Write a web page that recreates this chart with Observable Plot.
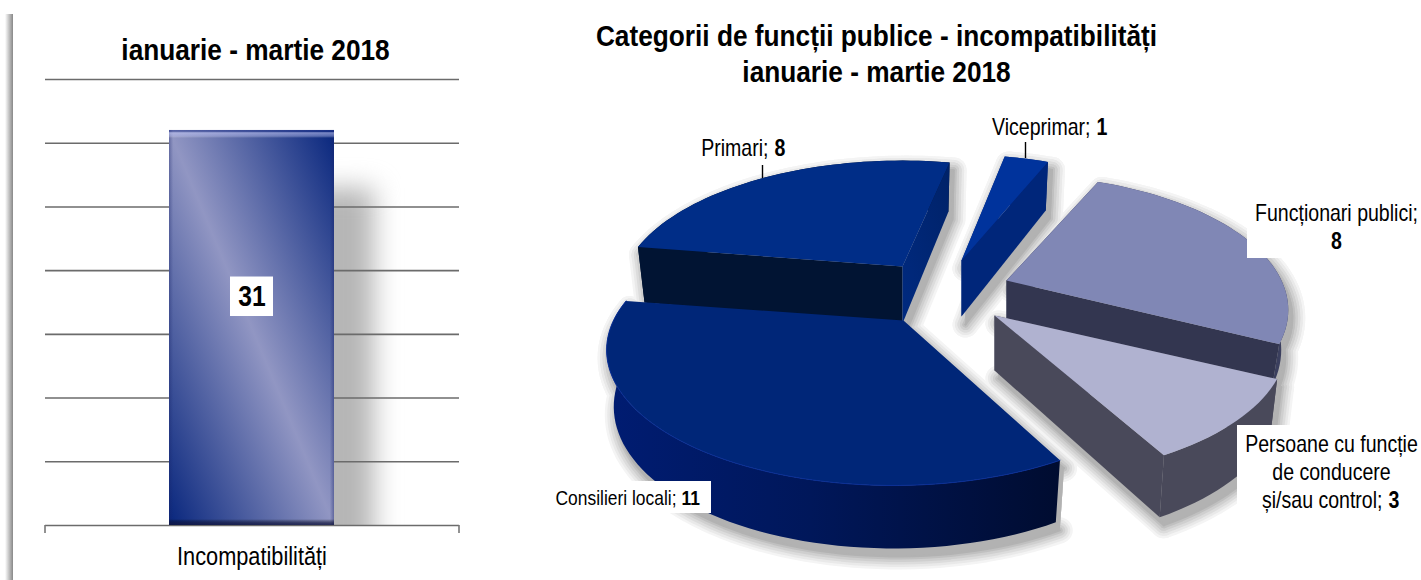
<!DOCTYPE html>
<html><head><meta charset="utf-8">
<script src="https://cdn.jsdelivr.net/npm/d3@7"></script>
<script src="https://cdn.jsdelivr.net/npm/@observablehq/plot@0.6"></script>
<style>
html,body{margin:0;padding:0;background:#fff;overflow:hidden}
#page{position:relative;width:1421px;height:580px}
#page svg{position:absolute;top:0;background:transparent;overflow:visible}
#edge{position:absolute;left:5px;top:14px;width:8px;bottom:0;background:linear-gradient(to right,rgba(130,130,130,0),#888)}
</style></head><body>
<div id="page"><div id="edge"></div></div>
<script>
// ---- data ----
const barCategories = ["Incompatibilități"];
const barValues = [31];
const barTicks = [0, 5, 10, 15, 20, 25, 30, 35];
const barTitle = "ianuarie - martie 2018";
const pieTitleLines = ["Categorii de funcții publice - incompatibilități", "ianuarie - martie 2018"];
const pieNames = ["Primari", "Viceprimar", "Funcționari publici", "Persoane cu funcție de conducere și/sau control", "Consilieri locali"];
const pieValues = [8, 1, 8, 3, 11];

// ---- drawing settings (not data) ----
const FONT = "Liberation Sans";
const firstAngle = 279;            // rotation of the first slice, degrees
const persp = 0.218, tilt = 129, depthGrow = 8, taper = 0.975;
const sliceStyle = [
  {ax:902, ay:266, cx:0,   R:277, d:57, top:"#002d87", a:"#011433", b:"url(#wallPrimari)", o:"#011433"},
  {ax:961, ay:260, cx:-2,  R:266, d:56, top:"#00339c", a:"#00267a", b:"#00267a", o:"#00267a"},
  {ax:1006,ay:280, cx:0,   R:275, d:38, top:"#8087b5", a:"#333650", b:"#333650", o:"#3b3f5e"},
  {ax:994, ay:315, cx:0,   R:285, d:55, top:"#b0b2d0", a:"#49495a", b:"#49495a", o:"#49495a"},
  {ax:903, ay:320, cx:-10, R:280, d:55, top:"#002678", o:"url(#wallCons)"}
];
// soft shadow built from stacked outlines, widest and palest first
const shadowLayers = [[26, "#f4f4f4"], [21, "#e9e9e9"], [16, "#dcdcdc"], [11, "#cfcfcf"], [6, "#c0c0c0"], [2, "#b2b2b2"]];

const rad = d => d * Math.PI / 180;
const arcs = d3.pie().sort(null).startAngle(rad(firstAngle)).endAngle(rad(firstAngle + 360))(pieValues);
const faces = [];
arcs.forEach((arc, i) => {
  const st = sliceStyle[i];
  const P = (t, down) => {
    const u = Math.sin(t), v = -Math.cos(t), s = 1 / (1 - persp * v);
    return {x: st.ax + st.cx + st.R * u * s * (down ? taper : 1), y: st.ay + tilt * v * s + (down ? st.d + depthGrow * v : 0)};
  };
  const n = Math.max(2, Math.ceil((arc.endAngle - arc.startAngle) / rad(2)));
  const angles = d3.range(n + 1).map(k => arc.startAngle + (arc.endAngle - arc.startAngle) * k / n);
  const apexT = {x: st.ax, y: st.ay}, apexB = {x: st.ax, y: st.ay + st.d};
  const add = (name, fill, pts) => pts.forEach(p => faces.push({face: i + name, fill, x: p.x, y: p.y}));
  add("o", st.o, [...angles.map(t => P(t, false)), ...angles.slice().reverse().map(t => P(t, true))]);
  if (st.a) add("a", st.a, [apexT, P(arc.startAngle, false), P(arc.startAngle, true), apexB]);
  if (st.b) add("b", st.b, [apexT, P(arc.endAngle, false), P(arc.endAngle, true), apexB]);
  add("t", st.top, [apexT, ...angles.map(t => P(t, false))]);
});
const consRim = faces.filter(f => f.face === "4t").slice(1);

const txt = (o) => ({fontFamily: FONT, fill: "#000", ...o});

// ---- left chart: bar ----
const barData = barCategories.map((c, i) => ({category: c, value: barValues[i]}));
const barPlot = Plot.plot({
  width: 480, height: 580, marginLeft: 45, marginRight: 21, marginTop: 79, marginBottom: 55,
  style: {fontFamily: FONT, background: "transparent", overflow: "visible"},
  x: {type: "band", domain: barCategories, padding: 0.4277, label: null},
  y: {domain: [0, 35], ticks: barTicks, axis: null, label: null},
  marks: [
    Plot.barY(barData, {x: "category", y: "value", dx: 40, dy: 58, fill: "#b6b6b6", imageFilter: "blur(13px)", clip: true}),
    Plot.ruleY(barTicks, {stroke: "#6b6b6b", strokeWidth: 1.6}),
    Plot.ruleX(barCategories, {x: d => d, y1: 0, y2: -0.63, dx: -207, stroke: "#777", strokeWidth: 1.6}),
    Plot.ruleX(barCategories, {x: d => d, y1: 0, y2: -0.63, dx: 207, stroke: "#777", strokeWidth: 1.6}),
    Plot.barY(barData, {x: "category", y: "value", fill: "url(#barGrad)"}),
    Plot.barY(barData, {x: "category", y: "value", fill: "url(#barEdge)"}),
    Plot.barY(barData, {x: "category", y: "value", fill: "url(#barBevel)"}),
    Plot.axisX({tickSize: 0, tickPadding: 22, fontSize: 25, label: null, fill: "#000"}),
    Plot.barY(barData, {x: "category", y1: d => d.value - 14.6, y2: d => d.value - 11.5, fill: "#fff", insetLeft: 61, insetRight: 61}),
    Plot.text(barData, txt({x: "category", y: d => d.value - 13.05, text: d => String(d.value), fontWeight: "bold", fontSize: 29})),
    Plot.text([barTitle], txt({frameAnchor: "top", lineAnchor: "middle", dy: -29, dx: 3, text: d => d, fontWeight: "bold", fontSize: 30}))
  ]
});
barPlot.style.left = "0px";

// ---- right chart: exploded 3-D pie ----
const labelBoxes = [
  {x1: 553, x2: 711, y1: 481, y2: 513},
  {x1: 1247, x2: 1421, y1: 197, y2: 258},
  {x1: 1237, x2: 1421, y1: 425, y2: 520}
];
const T = (s, x, y, anchor, bold, size = 23) => Plot.text([s], txt({x: () => x, y: () => y, text: d => d, textAnchor: anchor, fontSize: size, fontWeight: bold ? "bold" : "normal"}));
const piePlot = Plot.plot({
  width: 951, height: 580, margin: 0,
  style: {fontFamily: FONT, background: "transparent", overflow: "visible"},
  x: {domain: [470, 1421], range: [0, 951], axis: null, label: null},
  y: {domain: [0, 580], range: [0, 580], axis: null, label: null},
  color: {type: "identity"},
  marks: [
    ...shadowLayers.map(([w, c]) => Plot.line(faces, {x: "x", y: "y", z: "face", fill: c, stroke: c, strokeWidth: w, strokeLinejoin: "round", strokeMiterlimit: 4, dx: 4, dy: 8})),
    Plot.line(faces, {x: "x", y: "y", z: "face", fill: "fill", stroke: "none"}),
    Plot.line(consRim, {x: "x", y: "y", stroke: "#0a2f96", strokeWidth: 1}),
    Plot.ruleX([1025], {y1: 142, y2: 158, stroke: "#000", strokeWidth: 1.4}),
    Plot.ruleX([762], {y1: 165, y2: 178, stroke: "#000", strokeWidth: 1.4}),
    Plot.rect(labelBoxes, {x1: "x1", x2: "x2", y1: "y1", y2: "y2", fill: "#fff"}),
    Plot.text(pieTitleLines, txt({x: () => 876, y: (d, i) => 36 + i * 36, text: d => d, fontSize: 30, fontWeight: "bold"})),
    T("Primari;", 768, 148, "end"), T(String(pieValues[0]), 774, 148, "start", true),
    T("Viceprimar;", 1090, 127, "end"), T(String(pieValues[1]), 1096, 127, "start", true),
    T("Funcționari publici;", 1336, 213, "middle"), T(String(pieValues[2]), 1336, 241, "middle", true),
    T("Persoane cu funcție", 1331, 444, "middle"), T("de conducere", 1331, 472, "middle"),
    T("și/sau control;", 1382, 500, "end"), T(String(pieValues[3]), 1388, 500, "start", true),
    T("Consilieri locali;", 676, 498, "end", false, 20.5), T(String(pieValues[4]), 681, 498, "start", true, 20.5)
  ]
});
piePlot.style.left = "470px";

const page = document.getElementById("page");
page.append(barPlot, piePlot);

// gradients referenced by the marks
function grad(svg, id, attrs, stops) {
  let defs = d3.select(svg).select("defs.g");
  if (defs.empty()) defs = d3.select(svg).append("defs").attr("class", "g");
  const g = defs.append("linearGradient").attr("id", id);
  Object.entries(attrs).forEach(([k, v]) => g.attr(k, v));
  stops.forEach(([o, c, a]) => g.append("stop").attr("offset", o).attr("stop-color", c).attr("stop-opacity", a ?? 1));
}
grad(barPlot, "barGrad", {x1: 1, y1: 0, x2: 0, y2: 1}, [[0, "#08267d"], [0.5, "#9196c3"], [1, "#08267d"]]);
grad(barPlot, "barEdge", {x1: 0, y1: 0, x2: 1, y2: 0}, [
  [0, "#1a2468", 0.35], [0.025, "#1a2468", 0], [0.975, "#1a2468", 0], [1, "#1a2468", 0.4]]);
grad(barPlot, "barBevel", {x1: 0, y1: 0, x2: 0, y2: 1}, [
  [0, "#28398f", 0.6], [0.004, "#28398f", 0.4], [0.007, "#c3c8f5", 0.6], [0.015, "#c3c8f5", 0.4], [0.02, "#fff", 0],
  [0.985, "#000", 0], [0.995, "#10143c", 0.7], [1, "#10143c", 0.8]]);
grad(piePlot, "wallPrimari", {x1: 1, y1: 0, x2: 0, y2: 1}, [[0, "#002268"], [1, "#002a80"]]);
grad(piePlot, "wallCons", {x1: 0, y1: 0, x2: 1, y2: 0}, [[0, "#001c72"], [0.45, "#00175a"], [1, "#000c30"]]);

// horizontally condensed lettering, as in the reference
for (const svg of [barPlot, piePlot]) {
  d3.select(svg).selectAll("text").each(function () {
    const size = parseFloat(getComputedStyle(this).fontSize);
    const ratio = size === 30 ? 0.875 : size === 25 ? 0.87 : 0.85;
    const tf = this.getAttribute("transform") || "";
    this.setAttribute("transform", `${tf} scale(${ratio},1)`.trim());
  });
}
</script>
</body></html>
